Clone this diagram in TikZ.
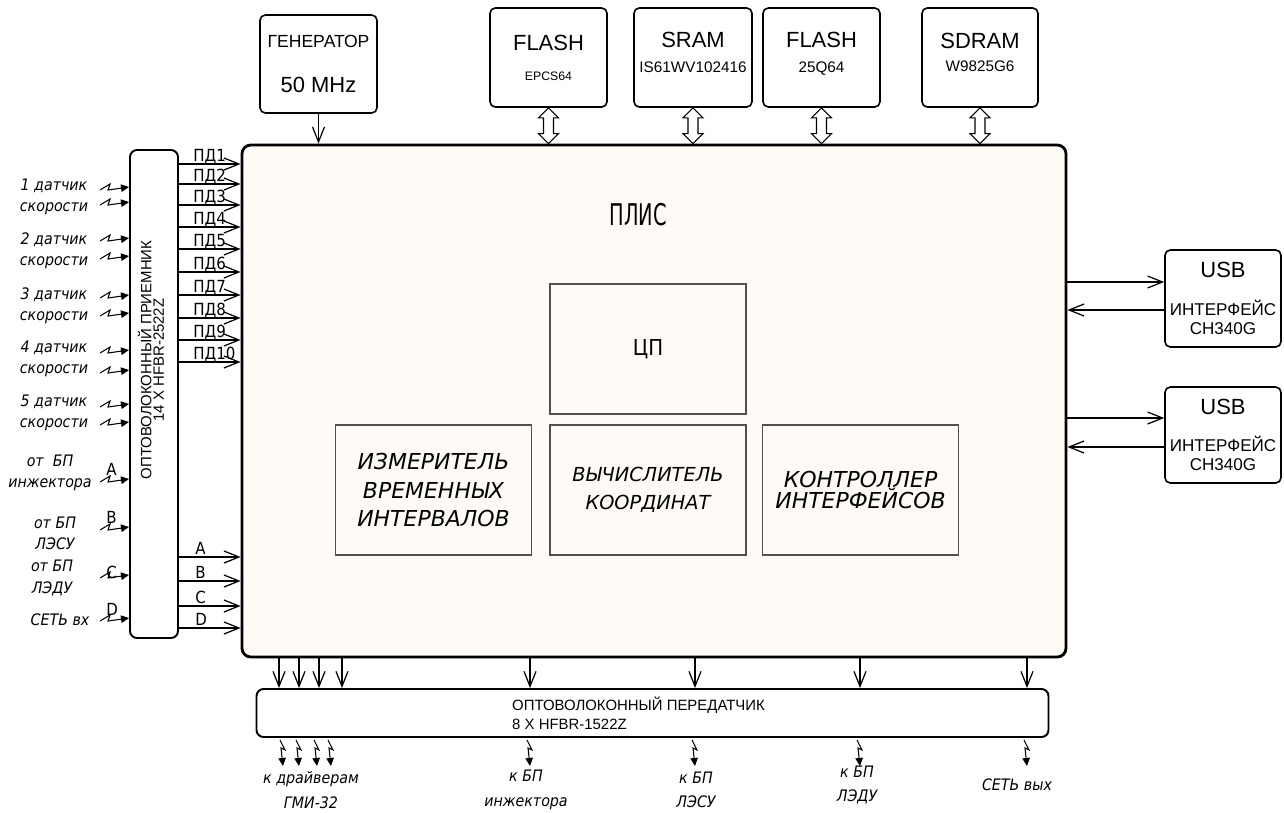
\documentclass[tikz,border=0pt]{standalone}
\usepackage{fontspec}
\setmainfont{Liberation Sans}
\newfontfamily\gost{DejaVu Sans Condensed}[ItalicFont={DejaVu Sans Condensed Oblique}]
\newfontfamily\gostn{DejaVu Sans Condensed}[FakeStretch=0.72]
\newfontfamily\gostwide{DejaVu Sans Oblique}
\usepackage{xcolor}
\usepackage{tikz}
\usetikzlibrary{arrows.meta,positioning,calc}
\definecolor{plisfill}{RGB}{254,251,247}
\definecolor{innergray}{RGB}{80,80,80}
\def\pxu{0.02cm}
\tikzset{
  blk/.style={draw, line width=0.9pt, rounded corners=3pt, fill=white, align=center, inner sep=1pt},
  plisbox/.style={draw, line width=1.6pt, rounded corners=5pt, fill=plisfill},
  optbox/.style={draw, line width=1.1pt, rounded corners=4pt, fill=white},
  fblock/.style={draw=innergray, line width=0.6pt, align=center, minimum width=196*\pxu,
                 minimum height=130*\pxu, font=\gostwide\fontsize{12.5}{16}\selectfont},
  sig/.style={-{Straight Barb[length=3mm,width=2.4mm]}, line width=0.7pt},
  optline/.style={-{Triangle[length=1.6mm,width=1.5mm]}, line width=0.6pt},
  busarr/.style={draw, line width=0.6pt, fill=white},
  lbl/.style={font=\gost\itshape\fontsize{9}{12}\selectfont, align=center, inner sep=0pt},
  pdl/.style={font=\gost\fontsize{9.5}{10}\selectfont, anchor=base west, inner sep=0pt},
  optin/.pic={\draw[optline] (-29,3) -- (-19,-3) -- (-21,3) -- (0,0);},
  optout/.pic={\draw[optline] (-3,2) -- (2,12) -- (-2,10) -- (0,28);}
}
\newcommand{\busarrow}[1]{%
  \draw[busarr] (#1.south) -- ++(10,10) -- ++(-5,0) -- ($(#1.south |- plis.north)+(5,-10)$)
    -- ++(5,0) -- (#1.south |- plis.north) -- ++(-10,-10) -- ++(5,0)
    -- ($(#1.south)+(-5,10)$) -- ++(-5,0) -- cycle;}

\begin{document}
\begin{tikzpicture}[x=0.02cm, y=-0.02cm]
\useasboundingbox (0,0) rectangle (1284,812);

\node[plisbox, minimum width=824*\pxu, minimum height=512*\pxu] (plis) at (654,401) {};
\node[font=\gostn\fontsize{17}{20}\selectfont] (plisname) at (638,215) {ПЛИС};
\node[fblock, font=\gost\fontsize{12.5}{14}\selectfont] (cpu) at (648,349) {ЦП};
\node[fblock] (meter) at (433.5,490) {ИЗМЕРИТЕЛЬ\\ВРЕМЕННЫХ\\ИНТЕРВАЛОВ};
\node[fblock, font=\gostwide\fontsize{11}{16}\selectfont] (coords) at (648,490) {ВЫЧИСЛИТЕЛЬ\\КООРДИНАТ};
\node[fblock, font=\gostwide\fontsize{12.5}{12.5}\selectfont] (ifctl) at (860.5,490) {КОНТРОЛЛЕР\\ИНТЕРФЕЙСОВ};

\node[blk, minimum width=117*\pxu, minimum height=98*\pxu, font=\fontsize{10}{12}\selectfont] (gen) at (318.5,64)
  {ГЕНЕРАТОР\\[13.5pt]{\fontsize{12.5}{14}\selectfont 50 MHz}};
\node[blk, minimum width=117*\pxu, minimum height=99*\pxu, font=\fontsize{7}{9}\selectfont] (flash1) at (548.5,57.5)
  {{\fontsize{12.5}{14}\selectfont FLASH}\\[8pt]EPCS64};
\node[blk, minimum width=118*\pxu, minimum height=99*\pxu, font=\fontsize{8.7}{10}\selectfont] (sram) at (693,57.5)
  {{\fontsize{12.5}{14}\selectfont SRAM}\\[4pt]IS61WV102416\\[-4pt]\mbox{}};
\node[blk, minimum width=117*\pxu, minimum height=99*\pxu, font=\fontsize{8.7}{10}\selectfont] (flash2) at (821.5,57.5)
  {{\fontsize{12.5}{14}\selectfont FLASH}\\[4pt]25Q64\\[-4pt]\mbox{}};
\node[blk, minimum width=116*\pxu, minimum height=99*\pxu, font=\fontsize{8.7}{10}\selectfont] (sdram) at (980,57.5)
  {{\fontsize{12.5}{14}\selectfont SDRAM}\\[3pt]W9825G6\\[-4pt]\mbox{}};

\draw[sig] (gen.south) -- (gen.south |- plis.north);
\foreach \m in {flash1,sram,flash2,sdram} \busarrow{\m};

\node[blk, minimum width=116*\pxu, minimum height=97*\pxu, font=\fontsize{9.7}{10.8}\selectfont] (usb1) at (1223,298.5)
  {{\fontsize{12.5}{14}\selectfont USB}\\[10.7pt]ИНТЕРФЕЙС\\CH340G};
\node[blk, minimum width=116*\pxu, minimum height=96*\pxu, font=\fontsize{9.7}{10.8}\selectfont] (usb2) at (1223,435)
  {{\fontsize{12.5}{14}\selectfont USB}\\[10.7pt]ИНТЕРФЕЙС\\CH340G};
\draw[sig] (plis.east |- 0,282) -- (usb1.west |- 0,282);
\draw[sig] (usb1.west |- 0,310) -- (plis.east |- 0,310);
\draw[sig] (plis.east |- 0,418) -- (usb2.west |- 0,418);
\draw[sig] (usb2.west |- 0,447) -- (plis.east |- 0,447);

\node[optbox, minimum width=48*\pxu, minimum height=488*\pxu] (rcv) at (154,394) {};
\node[rotate=90, align=center, font=\fontsize{8.5}{7.2}\selectfont] (rcvname) at (151,360)
  {ОПТОВОЛОКОННЫЙ ПРИЕМНИК\\14 X HFBR-2522Z};
\foreach \i/\yy in {1/164,2/184,3/205,4/227,5/249,6/272,7/295,8/318,9/340,10/362} {
  \draw[sig] (rcv.east |- 0,\yy) -- (plis.west |- 0,\yy);
  \node[pdl] at (193,\yy-3) {ПД\i};
}
\foreach \ch/\yy in {A/557,B/581,C/606,D/628} {
  \draw[sig] (rcv.east |- 0,\yy) -- (plis.west |- 0,\yy);
  \node[pdl] at (195,\yy-3) {\ch};
}

\foreach \yy in {187,202,238,256,295,313,350,370,404,422,479,527,575,618}
  \pic at (rcv.west |- 0,\yy) {optin};
\foreach \ch/\yy in {A/475,B/523,C/578,D/615}
  \node[pdl] at (106,\yy) {\ch};

\node[lbl] (sens1) at (54,197) {1 датчик\\скорости};
\node[lbl] (sens2) at (54,251) {2 датчик\\скорости};
\node[lbl] (sens3) at (54,306) {3 датчик\\скорости};
\node[lbl] (sens4) at (54,359) {4 датчик\\скорости};
\node[lbl] (sens5) at (54,413) {5 датчик\\скорости};
\node[lbl] (srcinj) at (50,473) {от\ \ БП\\инжектора};
\node[lbl] (srclesu) at (55,533) {от БП\\ЛЭСУ};
\node[lbl] (srcledu) at (52,578) {от БП\\ЛЭДУ};
\node[lbl] (netin) at (60,620) {СЕТЬ вх};

\node[optbox, minimum width=792*\pxu, minimum height=48*\pxu] (tx) at (652.5,713) {};
\node[anchor=west, align=left, font=\fontsize{8.5}{10.8}\selectfont] (txname) at (506,713)
  {ОПТОВОЛОКОННЫЙ ПЕРЕДАТЧИК\\8 X HFBR-1522Z};
\foreach \xx in {279,299,319,342,530,695,860,1027}
  \draw[sig] (plis.south -| \xx,0) -- (tx.north -| \xx,0);
\foreach \xx in {283,299,317,331,530,695,860,1027}
  \pic at (tx.south -| \xx,0) {optout};

\node[lbl, font=\gost\itshape\fontsize{9}{14}\selectfont] (drv) at (311,790) {к драйверам\\ГМИ-32};
\node[lbl, font=\gost\itshape\fontsize{9}{14}\selectfont] (dstinj) at (526,790) {к БП\\инжектора};
\node[lbl, font=\gost\itshape\fontsize{9}{14}\selectfont] (dstlesu) at (696,790) {к БП\\ЛЭСУ};
\node[lbl, font=\gost\itshape\fontsize{9}{14}\selectfont] (dstledu) at (857,785) {к БП\\ЛЭДУ};
\node[lbl] (netout) at (1017,785) {СЕТЬ вых};
\end{tikzpicture}
\end{document}
